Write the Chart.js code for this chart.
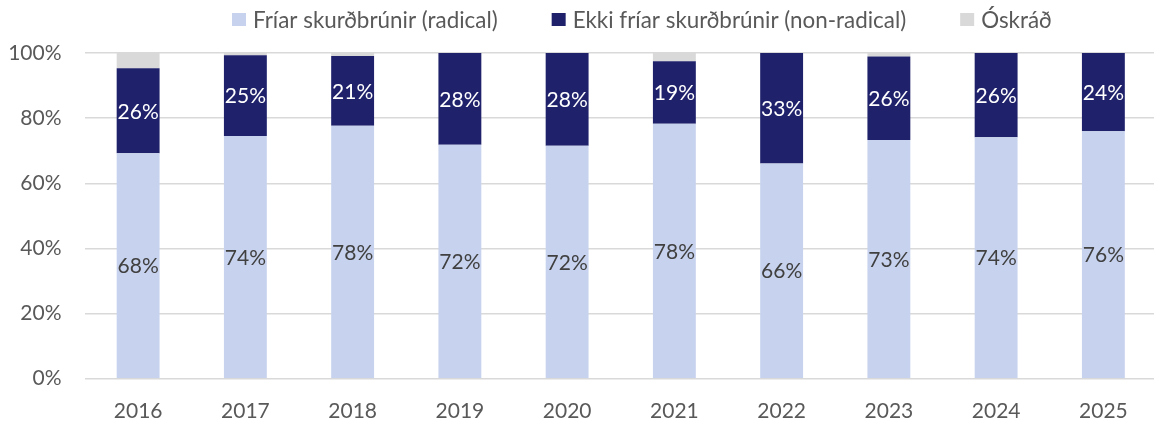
<!DOCTYPE html>
<html>
<head>
<meta charset="utf-8">
<script src="https://cdn.jsdelivr.net/npm/chart.js@4"></script>
<style>
html,body{margin:0;padding:0;background:#fff;overflow:hidden;width:1154px;height:424px;}
canvas{display:block;}
</style>
</head>
<body>
<canvas id="c" width="1157" height="424"></canvas>
<script>
const categories = ['2016','2017','2018','2019','2020','2021','2022','2023','2024','2025'];
const seriesNames = ['Fríar skurðbrúnir (radical)','Ekki fríar skurðbrúnir (non-radical)','Óskráð'];
const radical    = [69.2, 74.5, 77.7, 71.8, 71.5, 78.3, 66.1, 73.3, 74.1, 76.0];
const nonRadical = [26.1, 24.8, 21.4, 28.2, 28.5, 19.2, 33.9, 25.6, 25.9, 24.0];
const unknown    = [4.7, 0.7, 0.9, 0.0, 0.0, 2.5, 0.0, 1.1, 0.0, 0.0];
const radicalLabels    = ['68%','74%','78%','72%','72%','78%','66%','73%','74%','76%'];
const nonRadicalLabels = ['26%','25%','21%','28%','28%','19%','33%','26%','26%','24%'];
const yTicks = [0,20,40,60,80,100];

const FONT = 'Lato, "Open Sans", sans-serif';
const FS = 21;
const LEG_FS = 22.4;
const colors = ['#C7D3EE','#1F226B','#D9D9D9'];

const labelPlugin = {
  id:'labels',
  afterDatasetsDraw(chart){
    const ctx = chart.ctx;
    const sets = [[0,radicalLabels,'#404040'],[1,nonRadicalLabels,'#FFFFFF']];
    ctx.save();
    ctx.font = FS + 'px ' + FONT;
    ctx.textAlign = 'center';
    ctx.textBaseline = 'middle';
    sets.forEach(([di,labels,col])=>{
      const meta = chart.getDatasetMeta(di);
      meta.data.forEach((el,i)=>{
        const y = (el.y + el.base)/2;
        ctx.fillStyle = col;
        ctx.fillText(labels[i], el.x, y+1);
      });
    });
    ctx.restore();
  }
};

const legendPlugin = {
  id:'customLegend',
  afterDraw(chart){
    const ctx = chart.ctx;
    ctx.save();
    ctx.font = LEG_FS + 'px ' + FONT;
    ctx.textBaseline = 'middle';
    ctx.textAlign = 'left';
    let x = 232;
    const y = 20;
    chart.data.datasets.forEach((ds,i)=>{
      ctx.fillStyle = ds.backgroundColor;
      ctx.fillRect(x, y-7, 14, 13);
      ctx.fillStyle = '#595959';
      ctx.fillText(ds.label, x+21, y+1);
      x += 21 + ctx.measureText(ds.label).width + 54;
    });
    ctx.restore();
  }
};

new Chart(document.getElementById('c'), {
  type:'bar',
  data:{
    labels:categories,
    datasets:[
      {label:seriesNames[0], data:radical, backgroundColor:colors[0]},
      {label:seriesNames[1], data:nonRadical, backgroundColor:colors[1]},
      {label:seriesNames[2], data:unknown, backgroundColor:colors[2]}
    ]
  },
  options:{
    responsive:false,
    animation:false,
    devicePixelRatio:1,
    layout:{padding:{top:53,left:0,right:0,bottom:0}},
    datasets:{bar:{categoryPercentage:1, barPercentage:0.4, borderWidth:0}},
    plugins:{legend:{display:false}, tooltip:{enabled:false}},
    scales:{
      x:{
        stacked:true,
        grid:{display:false, drawTicks:false},
        border:{display:false},
        ticks:{color:'#595959', font:{family:FONT, size:FS}, padding:20},
        afterFit(s){ s.height = 45.3; }
      },
      y:{
        stacked:true,
        min:0, max:100,
        afterBuildTicks(s){ s.ticks = yTicks.map(v=>({value:v})); },
        grid:{color:'#D9D9D9', lineWidth:1.5, drawTicks:false},
        border:{display:false},
        ticks:{color:'#595959', font:{family:FONT, size:FS}, padding:23, callback:v=>v+'%'},
        afterFit(s){ s.width = 84.5; }
      }
    }
  },
  plugins:[labelPlugin, legendPlugin]
});
</script>
</body>
</html>
